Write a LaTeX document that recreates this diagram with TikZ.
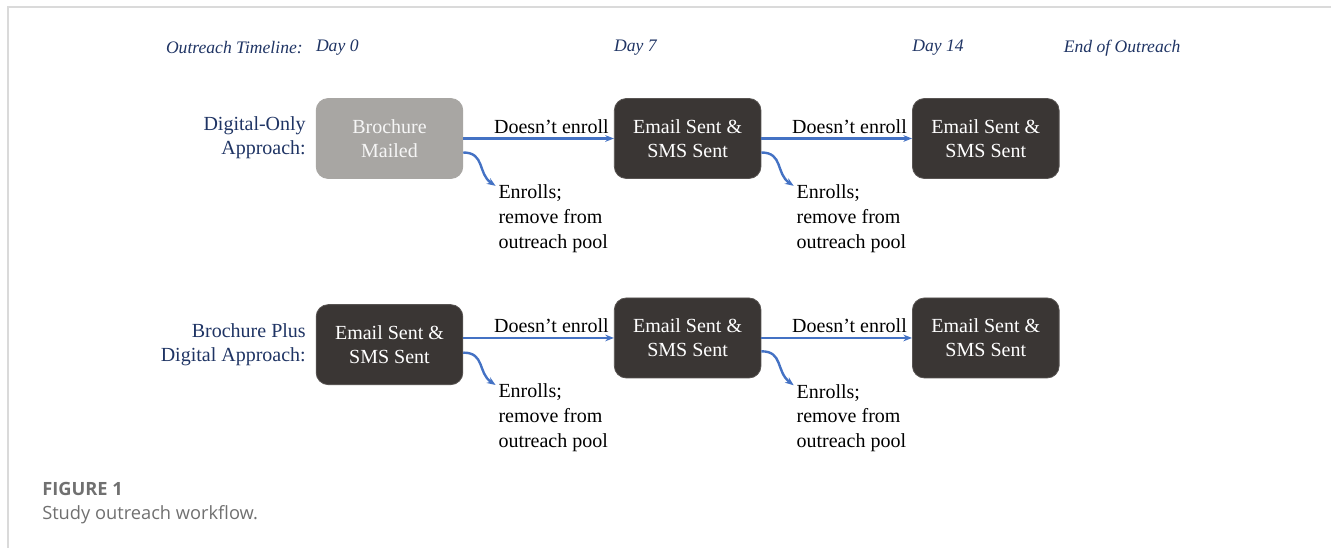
\documentclass[tikz,border=0pt]{standalone}
\usepackage{fontspec}
\setmainfont{Liberation Serif}
\newfontfamily\captionfont{Open Sans}
\usetikzlibrary{positioning,arrows.meta}
\usepackage{xcolor}
\definecolor{boxdark}{RGB}{58,54,52}
\definecolor{boxgray}{RGB}{168,166,163}
\definecolor{flowblue}{RGB}{68,114,196}
\definecolor{labelnavy}{RGB}{31,52,100}
\definecolor{framegray}{RGB}{218,218,218}
\definecolor{captiongray}{RGB}{112,112,112}

\begin{document}
\begin{tikzpicture}[
    x=0.75pt, y=-0.75pt,
    box/.style={draw=boxdark!85!white, line width=0.6pt, rounded corners=9pt, fill=boxdark, text=white, minimum width=110pt, minimum height=60pt, align=center, font=\fontsize{15}{18}\selectfont},
    mailbox/.style={box, draw=boxgray, fill=boxgray, text=white!90!boxgray},
    rowlabel/.style={align=right, text=labelnavy, inner sep=0pt, font=\fontsize{15}{18}\selectfont},
    timeline/.style={text=labelnavy, inner sep=0pt, font=\fontsize{13.2}{16}\selectfont\itshape},
    outcome/.style={align=left, anchor=north west, inner sep=0pt, font=\fontsize{15}{18.6}\selectfont},
    nojoin/.style={pos=1, above left, inner sep=3pt, text=black, font=\fontsize{15}{18}\selectfont},
    caption/.style={text=captiongray, anchor=west, inner sep=0pt},
    arrow/.style={-{Stealth[length=6.5pt, width=5pt]}, flowblue, line width=1.8pt}
]
    % page frame
    \useasboundingbox (0,0) rectangle (1331,548);
    \draw[framegray, line width=1.5pt] (8,548) -- (8,7) -- (1331,7);

    % first arm
    \node[mailbox] (b11) at (389.5,138.5) {Brochure\\Mailed};
    \node[box, right=113pt of b11] (b12) {Email Sent \&\\SMS Sent};
    \node[box, right=113pt of b12] (b13) {Email Sent \&\\SMS Sent};

    % second arm
    \node[box, below=94pt of b11] (b21) {Email Sent \&\\SMS Sent};
    \node[box, below=89pt of b12] (b22) {Email Sent \&\\SMS Sent};
    \node[box, right=113pt of b22] (b23) {Email Sent \&\\SMS Sent};

    \node[rowlabel, anchor=east] (arm1) at (306,138) {Digital-Only\\Approach:};
    \node[rowlabel, anchor=east] (arm2) at (306,345) {Brochure Plus\\Digital Approach:};

    % timeline along the top
    \node[timeline, anchor=east] (tl) at (303,48) {Outreach Timeline:};
    \node[timeline, anchor=west] (d0) at (b11.west |- 0,48) {Day 0};
    \node[timeline, anchor=west] (d7) at (b12.west |- 0,48) {Day 7};
    \node[timeline, anchor=west] (d14) at (b13.west |- 0,48) {Day 14};
    \node[timeline, anchor=west, xshift=3pt] (end) at (b13.east |- 0,48) {End of Outreach};

    % who enrolls leaves the pool
    \node[outcome] (e11) at ([shift={(35,46)}]b11.east) {Enrolls;\\remove from\\outreach pool};
    \node[outcome] (e12) at ([shift={(35,46)}]b12.east) {Enrolls;\\remove from\\outreach pool};
    \node[outcome] (e21) at ([shift={(35,39)}]b21.east) {Enrolls;\\remove from\\outreach pool};
    \node[outcome] (e22) at ([shift={(35,46)}]b22.east) {Enrolls;\\remove from\\outreach pool};

    \coordinate (s21) at (b21.east |- b22.west);

    \draw[arrow] (b11.east) -- node[nojoin] {Doesn't enroll} (b12.west);
    \draw[arrow] (b12.east) -- node[nojoin] {Doesn't enroll} (b13.west);
    \draw[arrow] (s21) -- node[nojoin] {Doesn't enroll} (b22.west);
    \draw[arrow] (b22.east) -- node[nojoin] {Doesn't enroll} (b23.west);

    \draw[arrow] ([yshift=-10.5pt]b11.east) .. controls +(22,0) and +(-18,-12) .. ([xshift=-2pt, yshift=-1pt]e11.north west);
    \draw[arrow] ([yshift=-10.5pt]b12.east) .. controls +(22,0) and +(-18,-12) .. ([xshift=-2pt, yshift=-1pt]e12.north west);
    \draw[arrow] ([yshift=-11pt]s21) .. controls +(22,0) and +(-18,-12) .. ([xshift=-2pt, yshift=-1pt]e21.north west);
    \draw[arrow] ([yshift=-10pt]b22.east) .. controls +(22,0) and +(-18,-14) .. ([xshift=-2pt, yshift=-1pt]e22.north west);

    % caption
    \node[caption, font=\captionfont\bfseries\fontsize{13.7}{16}\selectfont] (fig) at (42,489) {FIGURE 1};
    \node[caption, font=\captionfont\fontsize{13.7}{16}\selectfont] (cap) at (42,515) {Study outreach workflow.};
\end{tikzpicture}
\end{document}
